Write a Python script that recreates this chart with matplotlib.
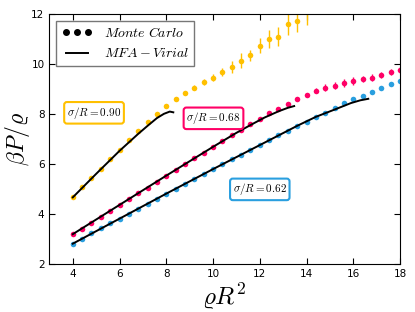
import matplotlib
matplotlib.use("Agg")
import matplotlib.pyplot as plt
from matplotlib.lines import Line2D

plt.rcParams['mathtext.fontset'] = 'cm'

# density grid (rho R^2) of the Monte Carlo runs
rho = [4.0, 4.4, 4.8, 5.2, 5.6, 6.0, 6.4, 6.8, 7.2, 7.6, 8.0, 8.4,
       8.8, 9.2, 9.6, 10.0, 10.4, 10.8, 11.2, 11.6, 12.0, 12.4, 12.8, 13.2,
       13.6, 14.0, 14.4, 14.8, 15.2, 15.6, 16.0, 16.4, 16.8, 17.2, 17.6, 18.0]

# sigma/R = 0.90
mc_090 = [4.68, 5.07, 5.43, 5.81, 6.20, 6.57, 6.95, 7.31, 7.67, 8.01, 8.31, 8.60,
          8.84, 9.04, 9.27, 9.45, 9.68, 9.88, 10.13, 10.35, 10.73, 10.99, 11.08, 11.59,
          11.72, 12.15]
err_090 = [0.03, 0.03, 0.03, 0.03, 0.03, 0.04, 0.04, 0.04, 0.05, 0.05, 0.06, 0.07,
           0.08, 0.10, 0.13, 0.15, 0.15, 0.25, 0.29, 0.22, 0.30, 0.37, 0.38, 0.45,
           0.45, 0.60]

# sigma/R = 0.68
mc_068 = [3.19, 3.41, 3.65, 3.89, 4.12, 4.36, 4.59, 4.83, 5.05, 5.29, 5.53, 5.76,
          5.99, 6.23, 6.45, 6.69, 6.91, 7.15, 7.37, 7.60, 7.81, 8.03, 8.21, 8.41,
          8.60, 8.76, 8.92, 9.05, 9.13, 9.23, 9.32, 9.39, 9.45, 9.56, 9.67, 9.75]
err_068 = [0.02, 0.02, 0.02, 0.02, 0.02, 0.02, 0.02, 0.02, 0.02, 0.02, 0.03, 0.03,
           0.03, 0.03, 0.03, 0.03, 0.03, 0.04, 0.04, 0.04, 0.04, 0.05, 0.05, 0.06,
           0.06, 0.08, 0.10, 0.15, 0.13, 0.15, 0.15, 0.12, 0.15, 0.12, 0.12, 0.12]

# sigma/R = 0.62
mc_062 = [2.81, 3.01, 3.23, 3.43, 3.63, 3.81, 4.01, 4.21, 4.41, 4.61, 4.81, 5.00,
          5.20, 5.39, 5.59, 5.79, 5.99, 6.19, 6.37, 6.56, 6.75, 6.96, 7.15, 7.33,
          7.52, 7.69, 7.88, 8.05, 8.24, 8.43, 8.59, 8.73, 8.89, 9.03, 9.20, 9.33]
err_062 = [0.02] * 30 + [0.03, 0.03, 0.04, 0.04, 0.05, 0.05]

# MFA-Virial curves
mfa_090_x = [4.0, 5.0, 6.0, 6.4, 6.8, 7.2, 7.6, 7.9, 8.15, 8.3]
mfa_090_y = [4.66, 5.60, 6.52, 6.86, 7.20, 7.52, 7.83, 8.00, 8.09, 8.06]
mfa_068_x = [4.0, 6.0, 8.0, 10.0, 11.0, 11.6, 12.2, 12.8, 13.2, 13.47]
mfa_068_y = [3.19, 4.36, 5.53, 6.68, 7.24, 7.55, 7.85, 8.10, 8.24, 8.31]
mfa_062_x = [4.0, 6.0, 8.0, 10.0, 12.0, 13.6, 14.4, 15.2, 15.9, 16.3, 16.64]
mfa_062_y = [2.81, 3.81, 4.81, 5.79, 6.75, 7.52, 7.88, 8.17, 8.43, 8.54, 8.60]

c_090 = '#FFC000'
c_068 = '#FF0066'
c_062 = '#2A9FDF'

fig = plt.figure(figsize=(4.15, 3.12), dpi=100)
ax = fig.add_axes([0.119, 0.154, 0.845, 0.802])

series = [
    (mc_090, err_090, c_090, mfa_090_x, mfa_090_y),
    (mc_068, err_068, c_068, mfa_068_x, mfa_068_y),
    (mc_062, err_062, c_062, mfa_062_x, mfa_062_y),
]
for mc, err, col, lx, ly in series:
    ax.errorbar(rho[:len(mc)], mc, yerr=err, fmt='o', color=col, ms=4,
                mec='none', elinewidth=1.0, capsize=0, zorder=2)
    ax.plot(lx, ly, color='black', lw=1.4, zorder=3)

# labels for each sigma/R
labels = [(4.91, 8.04, r'$\sigma/R = 0.90$', c_090),
          (10.02, 7.82, r'$\sigma/R = 0.68$', c_068),
          (12.0, 4.98, r'$\sigma/R = 0.62$', c_062)]
for lx, ly, txt, col in labels:
    ax.text(lx, ly, txt, fontsize=8, ha='center', va='center', zorder=4,
            bbox=dict(boxstyle='round,pad=0.25', fc='white', ec=col, lw=1.5))

ax.set_xlim(3, 18)
ax.set_ylim(2, 12)
ax.set_xticks([4, 6, 8, 10, 12, 14, 16, 18])
ax.set_yticks([2, 4, 6, 8, 10, 12])
ax.tick_params(direction='in', top=True, right=True, labelsize=7.5, length=4)
ax.set_xlabel(r'$\varrho R^2$', fontsize=18, labelpad=2)
ax.set_ylabel(r'$\beta P/\varrho$', fontsize=17)
ax.yaxis.set_label_coords(-0.05, 0.5)

handles = [Line2D([], [], marker='o', ls='none', color='black', ms=4),
           Line2D([], [], color='black', lw=1.4)]
ax.legend(handles, [r'$Monte\ Carlo$', r'$MFA-Virial$'], loc='upper left',
          numpoints=3, fontsize=10, fancybox=False, edgecolor='#777777',
          framealpha=1, borderaxespad=0.5, handlelength=2.2, labelspacing=0.45)

plt.savefig('out.png', dpi=100)
